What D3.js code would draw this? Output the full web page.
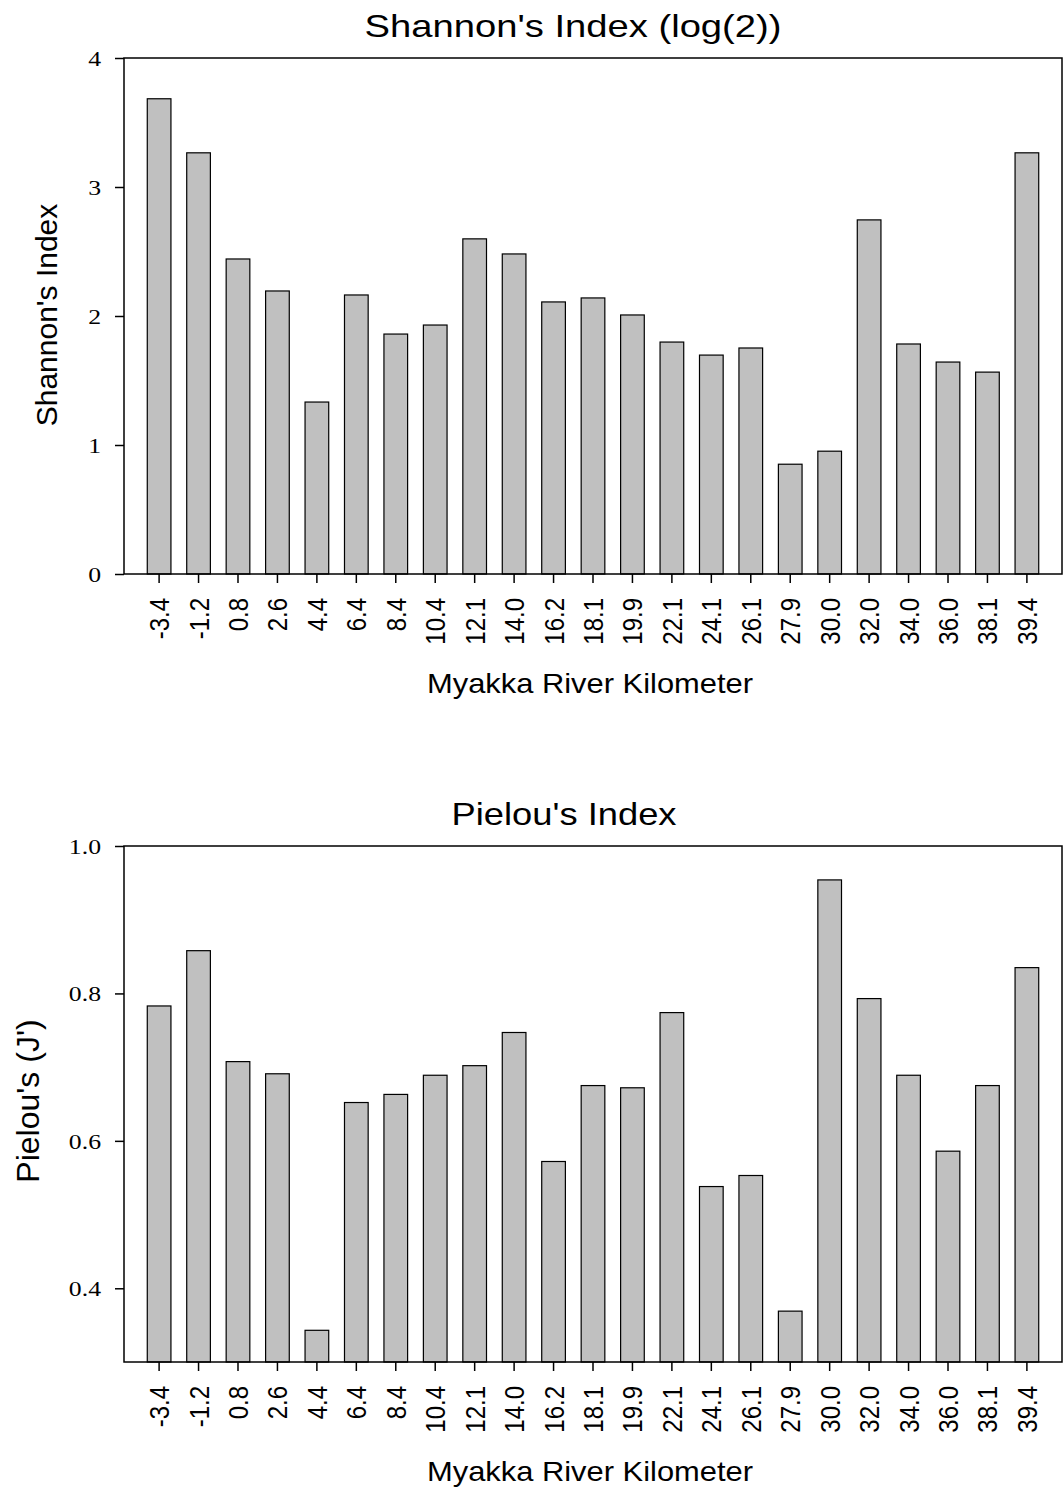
<!DOCTYPE html>
<html><head><meta charset="utf-8">
<script src="https://cdn.jsdelivr.net/npm/d3@7"></script>
<style>body{margin:0;background:#fff}svg{display:block}</style>
</head><body>
<script>
const categories = ["-3.4","-1.2","0.8","2.6","4.4","6.4","8.4","10.4","12.1","14.0","16.2","18.1","19.9","22.1","24.1","26.1","27.9","30.0","32.0","34.0","36.0","38.1","39.4"];
const shannonValues = [3.684,3.265,2.442,2.194,1.333,2.163,1.860,1.930,2.598,2.481,2.109,2.140,2.008,1.798,1.697,1.752,0.851,0.952,2.745,1.783,1.643,1.565,3.265];
const pielouValues = [0.783,0.858,0.7075,0.691,0.343,0.652,0.663,0.689,0.702,0.747,0.572,0.675,0.672,0.774,0.538,0.553,0.369,0.954,0.793,0.689,0.586,0.675,0.835];
const shannonTicks = [0,1,2,3,4];
const pielouTicks = [0.4,0.6,0.8,1.0];

const W = 1063, H = 1490;
const SANS = "'Liberation Sans',Arial,sans-serif";
const SERIF = "'Liberation Serif','Times New Roman',serif";
const svg = d3.select("body").append("svg").attr("width", W).attr("height", H);

function panel(cfg){
  const g = svg.append("g");
  const x = d3.scaleBand().domain(categories).range([124, 1062]).paddingInner(0.4).paddingOuter(0.59);
  const y = d3.scaleLinear().domain(cfg.domain).range([cfg.bottom, cfg.top]);
  g.selectAll("rect.bar").data(cfg.values).join("rect").attr("class","bar")
    .attr("x",(d,i)=>x(categories[i])).attr("width",x.bandwidth())
    .attr("y",d=>y(d)).attr("height",d=>y(cfg.domain[0])-y(d))
    .attr("fill","#c0c0c0").attr("stroke","#000").attr("stroke-width",1.2);
  g.append("rect").attr("x",124).attr("y",cfg.top).attr("width",1062-124).attr("height",cfg.bottom-cfg.top)
    .attr("fill","none").attr("stroke","#000").attr("stroke-width",1.5);
  const ya = g.append("g").attr("transform","translate(124,0)")
    .call(d3.axisLeft(y).tickValues(cfg.ticks).tickFormat(cfg.fmt).tickSize(9).tickSizeOuter(0));
  ya.select(".domain").remove();
  ya.selectAll("line").attr("stroke","#000").attr("stroke-width",1.5);
  ya.selectAll("text").attr("font-family",SERIF).attr("font-size",22).attr("fill","#000")
    .attr("x",0).attr("dy","0.34em").attr("transform","translate(-23,0) scale(1.17,1)");
  const xa = g.append("g").attr("transform",`translate(0,${cfg.bottom})`)
    .call(d3.axisBottom(x).tickSize(9).tickSizeOuter(0));
  xa.select(".domain").remove();
  xa.selectAll("line").attr("stroke","#000").attr("stroke-width",1.5);
  xa.selectAll("text").attr("font-family",SANS).attr("font-size",24).attr("fill","#000")
    .attr("transform","scale(1.16,1) rotate(-90)").attr("text-anchor","end").attr("dy","0.36em").attr("x",-24).attr("y",0);
  g.append("text").attr("x",cfg.titleX).attr("y",cfg.top-21).attr("text-anchor","middle")
    .attr("font-family",SANS).attr("font-size",32).attr("textLength",cfg.titleLen).attr("lengthAdjust","spacingAndGlyphs").text(cfg.title);
  g.append("text").attr("x",590).attr("y",cfg.bottom+119).attr("text-anchor","middle")
    .attr("font-family",SANS).attr("font-size",28).attr("textLength",326).attr("lengthAdjust","spacingAndGlyphs").text("Myakka River Kilometer");
  g.append("text").attr("transform",`translate(${cfg.ylabX},${cfg.ylabY}) rotate(-90)`).attr("text-anchor","middle")
    .attr("font-family",SANS).attr("font-size",cfg.ylabSize).text(cfg.ylab);
}

panel({values:shannonValues, domain:[0,4], ticks:shannonTicks, fmt:d3.format("d"), top:58, bottom:574,
  title:"Shannon's Index (log(2))", titleX:573, titleLen:417, ylab:"Shannon's Index", ylabX:57, ylabY:315, ylabSize:30});
panel({values:pielouValues, domain:[0.3,1.0], ticks:pielouTicks, fmt:d3.format(".1f"), top:846, bottom:1362,
  title:"Pielou's Index", titleX:564, titleLen:225, ylab:"Pielou's (J')", ylabX:39, ylabY:1101, ylabSize:32});
</script>
</body></html>
